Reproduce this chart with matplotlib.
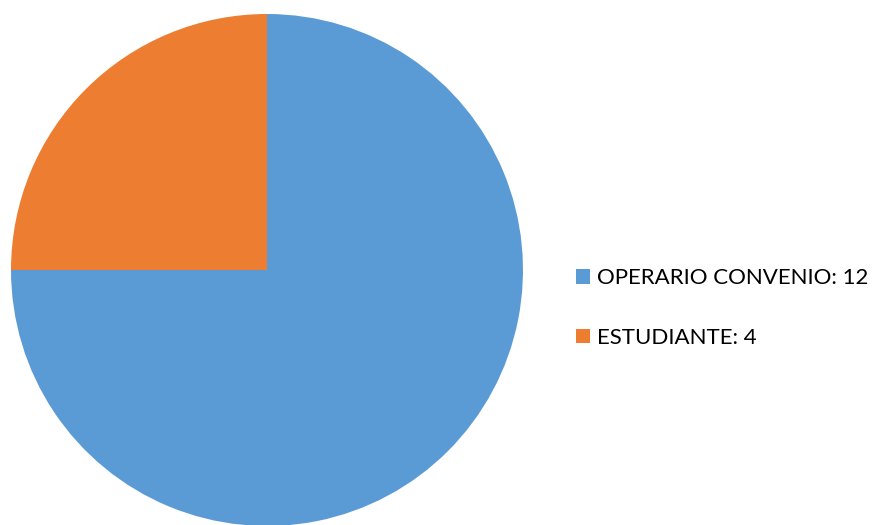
import matplotlib.pyplot as plt

labels = ['OPERARIO CONVENIO', 'ESTUDIANTE']
values = [12, 4]
colors = ['#5B9BD5', '#ED7D31']

plt.rcParams['font.family'] = ['Lato', 'DejaVu Sans']

W, H = 876, 525
fig = plt.figure(figsize=(W / 100, H / 100), dpi=100)

# pie centre at (267, 270) px from top-left, radius 256 px
cx, cy, r = 267, 270, 256
ax = fig.add_axes([(cx - r) / W, (H - cy - r) / H, 2 * r / W, 2 * r / H])
wedges, _ = ax.pie(values, colors=colors, startangle=90, counterclock=False,
                   radius=1, wedgeprops=dict(linewidth=0))
ax.set_xlim(-1, 1)
ax.set_ylim(-1, 1)
ax.set_aspect('auto')
ax.axis('off')

leg_labels = [f'{l}: {v}' for l, v in zip(labels, values)]
fig.legend(wedges, leg_labels, loc='center left',
           bbox_to_anchor=(576 / W, (H - 308) / H),
           frameon=False, fontsize=16, handlelength=0.63, handleheight=0.63,
           handletextpad=0.32, labelspacing=1.78, borderpad=0, borderaxespad=0)

fig.savefig('out.png', dpi=100)
